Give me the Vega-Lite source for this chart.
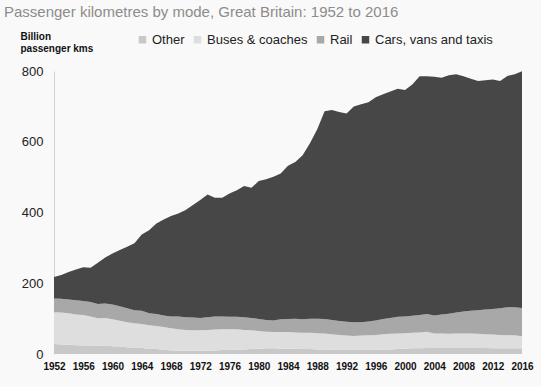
{
 "$schema": "https://vega.github.io/schema/vega-lite/v6.json",
 "width": 468,
 "height": 283,
 "autosize": {"type": "none"},
 "padding": {"left": 54, "top": 71, "right": 19, "bottom": 33},
 "background": "#f9f9f9",
 "title": {"text": "Passenger kilometres by mode, Great Britain: 1952 to 2016", "anchor": "start", "frame": "group", "dx": -50, "offset": 11, "fontSize": 15, "font": "Liberation Sans", "fontWeight": "normal", "color": "#8c8c8c"},
 "data": {"values": [
  {"year":1952,"Other":28,"Buses & coaches":90,"Rail":39,"Cars, vans and taxis":61},
  {"year":1953,"Other":27,"Buses & coaches":90,"Rail":39,"Cars, vans and taxis":67},
  {"year":1954,"Other":26,"Buses & coaches":89,"Rail":39,"Cars, vans and taxis":78},
  {"year":1955,"Other":25,"Buses & coaches":87,"Rail":40,"Cars, vans and taxis":87},
  {"year":1956,"Other":24,"Buses & coaches":86,"Rail":40,"Cars, vans and taxis":95},
  {"year":1957,"Other":24,"Buses & coaches":82,"Rail":41,"Cars, vans and taxis":97},
  {"year":1958,"Other":23,"Buses & coaches":78,"Rail":40,"Cars, vans and taxis":117},
  {"year":1959,"Other":23,"Buses & coaches":79,"Rail":41,"Cars, vans and taxis":130},
  {"year":1960,"Other":22,"Buses & coaches":76,"Rail":42,"Cars, vans and taxis":144},
  {"year":1961,"Other":21,"Buses & coaches":73,"Rail":41,"Cars, vans and taxis":159},
  {"year":1962,"Other":19,"Buses & coaches":71,"Rail":39,"Cars, vans and taxis":174},
  {"year":1963,"Other":18,"Buses & coaches":69,"Rail":37,"Cars, vans and taxis":189},
  {"year":1964,"Other":17,"Buses & coaches":68,"Rail":37,"Cars, vans and taxis":216},
  {"year":1965,"Other":15,"Buses & coaches":66,"Rail":34,"Cars, vans and taxis":235},
  {"year":1966,"Other":14,"Buses & coaches":65,"Rail":34,"Cars, vans and taxis":256},
  {"year":1967,"Other":12,"Buses & coaches":64,"Rail":33,"Cars, vans and taxis":271},
  {"year":1968,"Other":10,"Buses & coaches":63,"Rail":33,"Cars, vans and taxis":284},
  {"year":1969,"Other":9,"Buses & coaches":61,"Rail":36,"Cars, vans and taxis":291},
  {"year":1970,"Other":9,"Buses & coaches":59,"Rail":36,"Cars, vans and taxis":303},
  {"year":1971,"Other":9,"Buses & coaches":58,"Rail":36,"Cars, vans and taxis":318},
  {"year":1972,"Other":9,"Buses & coaches":58,"Rail":35,"Cars, vans and taxis":333},
  {"year":1973,"Other":9,"Buses & coaches":59,"Rail":36,"Cars, vans and taxis":347},
  {"year":1974,"Other":10,"Buses & coaches":59,"Rail":37,"Cars, vans and taxis":336},
  {"year":1975,"Other":11,"Buses & coaches":59,"Rail":36,"Cars, vans and taxis":336},
  {"year":1976,"Other":12,"Buses & coaches":58,"Rail":35,"Cars, vans and taxis":349},
  {"year":1977,"Other":12,"Buses & coaches":58,"Rail":35,"Cars, vans and taxis":358},
  {"year":1978,"Other":13,"Buses & coaches":55,"Rail":36,"Cars, vans and taxis":371},
  {"year":1979,"Other":14,"Buses & coaches":53,"Rail":35,"Cars, vans and taxis":368},
  {"year":1980,"Other":15,"Buses & coaches":50,"Rail":34,"Cars, vans and taxis":390},
  {"year":1981,"Other":16,"Buses & coaches":47,"Rail":33,"Cars, vans and taxis":398},
  {"year":1982,"Other":16,"Buses & coaches":46,"Rail":33,"Cars, vans and taxis":406},
  {"year":1983,"Other":15,"Buses & coaches":47,"Rail":36,"Cars, vans and taxis":412},
  {"year":1984,"Other":15,"Buses & coaches":47,"Rail":37,"Cars, vans and taxis":433},
  {"year":1985,"Other":15,"Buses & coaches":46,"Rail":39,"Cars, vans and taxis":443},
  {"year":1986,"Other":14,"Buses & coaches":46,"Rail":38,"Cars, vans and taxis":464},
  {"year":1987,"Other":14,"Buses & coaches":46,"Rail":40,"Cars, vans and taxis":496},
  {"year":1988,"Other":13,"Buses & coaches":46,"Rail":41,"Cars, vans and taxis":535},
  {"year":1989,"Other":13,"Buses & coaches":45,"Rail":41,"Cars, vans and taxis":587},
  {"year":1990,"Other":12,"Buses & coaches":44,"Rail":40,"Cars, vans and taxis":594},
  {"year":1991,"Other":12,"Buses & coaches":42,"Rail":39,"Cars, vans and taxis":591},
  {"year":1992,"Other":11,"Buses & coaches":41,"Rail":39,"Cars, vans and taxis":589},
  {"year":1993,"Other":11,"Buses & coaches":40,"Rail":39,"Cars, vans and taxis":610},
  {"year":1994,"Other":11,"Buses & coaches":41,"Rail":38,"Cars, vans and taxis":616},
  {"year":1995,"Other":11,"Buses & coaches":42,"Rail":39,"Cars, vans and taxis":620},
  {"year":1996,"Other":12,"Buses & coaches":42,"Rail":41,"Cars, vans and taxis":631},
  {"year":1997,"Other":12,"Buses & coaches":44,"Rail":43,"Cars, vans and taxis":635},
  {"year":1998,"Other":13,"Buses & coaches":44,"Rail":45,"Cars, vans and taxis":640},
  {"year":1999,"Other":14,"Buses & coaches":44,"Rail":47,"Cars, vans and taxis":645},
  {"year":2000,"Other":15,"Buses & coaches":44,"Rail":47,"Cars, vans and taxis":640},
  {"year":2001,"Other":16,"Buses & coaches":44,"Rail":48,"Cars, vans and taxis":654},
  {"year":2002,"Other":16,"Buses & coaches":45,"Rail":49,"Cars, vans and taxis":675},
  {"year":2003,"Other":17,"Buses & coaches":46,"Rail":50,"Cars, vans and taxis":672},
  {"year":2004,"Other":17,"Buses & coaches":41,"Rail":51,"Cars, vans and taxis":675},
  {"year":2005,"Other":17,"Buses & coaches":41,"Rail":54,"Cars, vans and taxis":669},
  {"year":2006,"Other":17,"Buses & coaches":40,"Rail":57,"Cars, vans and taxis":674},
  {"year":2007,"Other":17,"Buses & coaches":41,"Rail":59,"Cars, vans and taxis":674},
  {"year":2008,"Other":17,"Buses & coaches":41,"Rail":62,"Cars, vans and taxis":665},
  {"year":2009,"Other":17,"Buses & coaches":41,"Rail":64,"Cars, vans and taxis":656},
  {"year":2010,"Other":17,"Buses & coaches":40,"Rail":67,"Cars, vans and taxis":648},
  {"year":2011,"Other":17,"Buses & coaches":39,"Rail":70,"Cars, vans and taxis":648},
  {"year":2012,"Other":16,"Buses & coaches":39,"Rail":72,"Cars, vans and taxis":649},
  {"year":2013,"Other":16,"Buses & coaches":38,"Rail":75,"Cars, vans and taxis":643},
  {"year":2014,"Other":16,"Buses & coaches":37,"Rail":79,"Cars, vans and taxis":654},
  {"year":2015,"Other":16,"Buses & coaches":37,"Rail":79,"Cars, vans and taxis":659},
  {"year":2016,"Other":16,"Buses & coaches":34,"Rail":80,"Cars, vans and taxis":669}
 ]},
 "transform": [
  {"fold": ["Other", "Buses & coaches", "Rail", "Cars, vans and taxis"], "as": ["mode", "value"]},
  {"calculate": "indexof(['Other','Buses & coaches','Rail','Cars, vans and taxis'], datum.mode)", "as": "k"}
 ],
 "mark": {"type": "area", "interpolate": "linear"},
 "encoding": {
  "x": {"field": "year", "type": "quantitative", "scale": {"domain": [1952, 2016], "nice": false, "zero": false},
   "axis": {"values": [1952,1956,1960,1964,1968,1972,1976,1980,1984,1988,1992,1996,2000,2004,2008,2012,2016], "format": "d", "grid": false, "ticks": false, "domain": false, "labelFontSize": 10, "labelFontWeight": "bold", "labelColor": "#111", "labelPadding": 7, "title": null, "labelOverlap": false, "labelFlush": false}},
  "y": {"field": "value", "type": "quantitative", "stack": "zero", "scale": {"domain": [0, 800], "nice": false},
   "axis": {"values": [0,200,400,600,800], "grid": false, "ticks": false, "domain": true, "domainColor": "#d0d0d0", "labelFontSize": 13, "labelColor": "#222", "labelPadding": 11,
    "title": ["Billion", "passenger kms"], "titleAngle": 0, "titleAlign": "left", "titleBaseline": "top", "titleX": -34, "titleY": -40, "titleFontSize": 10, "titleFontWeight": "bold", "titleColor": "#111", "titleLineHeight": 12}},
  "color": {"field": "mode", "type": "nominal",
   "scale": {"domain": ["Other", "Buses & coaches", "Rail", "Cars, vans and taxis"], "range": ["#c8c8c8", "#dedede", "#a8a8a8", "#474747"]},
   "legend": {"orient": "none", "legendX": 82, "legendY": -38, "direction": "horizontal", "title": null, "symbolType": "square", "symbolSize": 56, "symbolStrokeWidth": 0, "labelFontSize": 13, "labelColor": "#222", "columnPadding": 6, "labelOffset": 3}},
  "order": {"field": "k", "type": "quantitative", "sort": "ascending"}
 },
 "config": {"view": {"stroke": null}, "font": "Liberation Sans"}
}
